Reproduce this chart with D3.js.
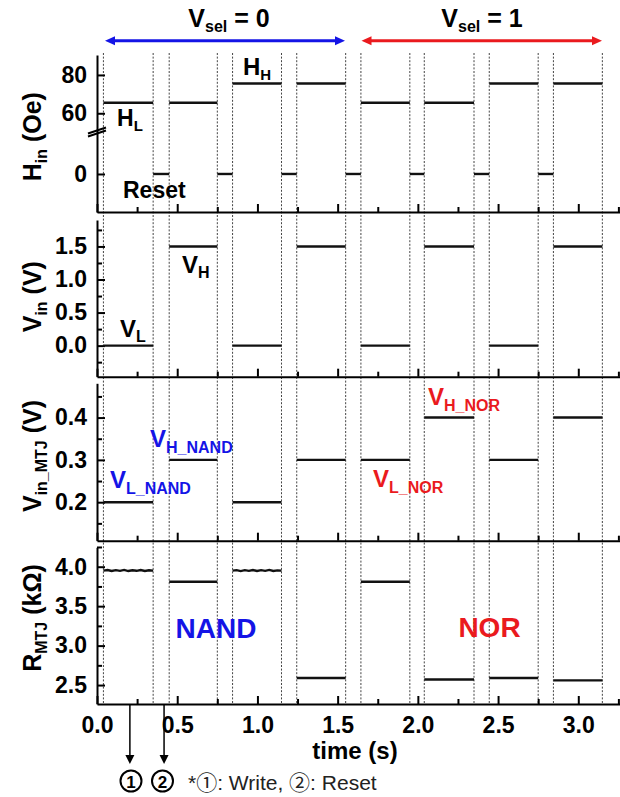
<!DOCTYPE html>
<html>
<head>
<meta charset="utf-8">
<script src="https://cdn.jsdelivr.net/npm/d3@7"></script>
<style>
  html, body { margin: 0; padding: 0; background: #fff; }
  svg { display: block; font-family: "Liberation Sans", Arial, "Noto Sans CJK JP", sans-serif; }
</style>
</head>
<body>
<svg id="chart" width="620" height="797"></svg>
<script>
// Time windows of each write pulse (s); resets sit between consecutive windows
const writeStart = [0.04, 0.45, 0.845, 1.245, 1.645, 2.04, 2.445, 2.845];
const writeEnd   = [0.35, 0.75, 1.15, 1.55, 1.95, 2.35, 2.75, 3.15];

// Input field during each write window (Oe) and during reset
const hIn = [65.5, 65.5, 75.5, 75.5, 65.5, 65.5, 75.5, 75.5];
const hReset = 0;

// Input voltage (V)
const vIn = [0, 1.5, 0, 1.5, 0, 1.5, 0, 1.5];

// Voltage across the MTJ (V)
const vInMTJ = [0.2, 0.3, 0.2, 0.3, 0.3, 0.4, 0.3, 0.4];

// Measured MTJ resistance (kΩ); windows 1 and 3 carry a small ripple
const rMTJ = [3.95, 3.81, 3.95, 2.59, 3.81, 2.57, 2.59, 2.56];
const rRipple1 = [3.950, 3.958, 3.946, 3.956, 3.947, 3.959, 3.945, 3.955, 3.948, 3.958, 3.946, 3.955, 3.950];
const rRipple3 = [3.950, 3.957, 3.945, 3.956, 3.948, 3.958, 3.946, 3.956, 3.947, 3.959, 3.946, 3.954, 3.950];

// Axis ticks
const xMajor = [0, 0.5, 1.0, 1.5, 2.0, 2.5, 3.0];
const xMinor = [0.25, 0.75, 1.25, 1.75, 2.25, 2.75, 3.25];
const hTicks = [0, 60, 80];
const vMajor = [0, 0.5, 1.0, 1.5];
const vMinor = [-0.25, 0.25, 0.75, 1.25, 1.75];
const mMajor = [0.2, 0.3, 0.4];
const mMinor = [0.15, 0.25, 0.35, 0.45];
const rMajor = [2.5, 3.0, 3.5, 4.0];
const rMinor = [2.75, 3.25, 3.75, 4.25];

// Operation markers along the time axis (s)
const writeMark = 0.205;
const resetMark = 0.418;

const BLUE = "#1414e6";
const RED = "#ea1a1e";
const svg = d3.select("#chart");

const x = d3.scaleLinear().domain([0, 3.26]).range([97, 620]);

const panels = [
  { top: 55,    bottom: 212 },
  { top: 220,   bottom: 376.7 },
  { top: 383.3, bottom: 540.7 },
  { top: 547.3, bottom: 704 }
];

// Field axis is broken between ~20 Oe and ~50 Oe
const yH = d3.scaleLinear().domain([-20, 20.5, 49.5, 90.4]).range([212.3, 134.7, 133.4, 55]);
const yV = d3.scaleLinear().domain([-0.47, 1.9]).range([376.7, 220]);
const yM = d3.scaleLinear().domain([0.109, 0.481]).range([540.7, 383.3]);
const yR = d3.scaleLinear().domain([2.26, 4.246]).range([704, 547.3]);

// Dotted guides at every window boundary
const bounds = writeStart.concat(writeEnd);
svg.append("g").selectAll("line").data(bounds).join("line")
  .attr("x1", d => x(d)).attr("x2", d => x(d))
  .attr("y1", 53).attr("y2", 704)
  .attr("stroke", "#444").attr("stroke-width", 1)
  .attr("stroke-dasharray", "2,1.6");

function styleAxis(g) {
  g.selectAll(".domain").attr("stroke", "#000").attr("stroke-width", 2);
  g.selectAll(".tick line").attr("stroke", "#000").attr("stroke-width", 2);
  g.selectAll(".tick text").attr("fill", "#000")
    .style("font-size", "23px").style("font-weight", "bold")
    .style("font-family", "'Liberation Sans', Arial, sans-serif");
}

// Axes for each panel
function drawAxes(i, y, major, minor, fmt) {
  const p = panels[i];
  const last = i === panels.length - 1;
  // bottom
  const gb = svg.append("g").attr("transform", `translate(0,${p.bottom})`);
  gb.call(d3.axisBottom(x).tickValues(xMajor).tickSize(-8).tickSizeOuter(0).tickPadding(12.7)
    .tickFormat(last ? d3.format(".1f") : () => ""));
  styleAxis(gb);
  const gbm = svg.append("g").attr("transform", `translate(0,${p.bottom})`);
  gbm.call(d3.axisBottom(x).tickValues(xMinor).tickSize(-5).tickSizeOuter(0).tickFormat(() => ""));
  styleAxis(gbm);
  gbm.select(".domain").remove();
  // left
  const gl = svg.append("g").attr("transform", `translate(${x(0)},0)`);
  gl.call(d3.axisLeft(y).tickValues(major).tickSize(-8).tickSizeOuter(0).tickPadding(10).tickFormat(fmt));
  styleAxis(gl);
  if (minor) {
    const glm = svg.append("g").attr("transform", `translate(${x(0)},0)`);
    glm.call(d3.axisLeft(y).tickValues(minor).tickSize(-5).tickSizeOuter(0).tickFormat(() => ""));
    styleAxis(glm);
    glm.select(".domain").remove();
  }
}

drawAxes(0, yH, hTicks, null, d3.format("d"));
drawAxes(1, yV, vMajor, vMinor, d3.format(".1f"));
drawAxes(2, yM, mMajor, mMinor, d3.format(".1f"));
drawAxes(3, yR, rMajor, rMinor, d3.format(".1f"));

// Break marks on the field axis
const brk = svg.append("g");
[0, 3].forEach(off => {
  brk.append("line")
    .attr("x1", x(0) - 9).attr("y1", 136.5 - off)
    .attr("x2", x(0) + 9).attr("y2", 130.5 - off)
    .attr("stroke", "#000").attr("stroke-width", 2);
});

// Step segments
const segStroke = "#111";
function drawLevels(y, values, resetValue) {
  const g = svg.append("g");
  const segs = values.map((v, i) => ({ t0: writeStart[i], t1: writeEnd[i], v }));
  if (resetValue !== undefined) {
    for (let i = 0; i < writeEnd.length - 1; i++) {
      segs.push({ t0: writeEnd[i], t1: writeStart[i + 1], v: resetValue });
    }
  }
  g.selectAll("line").data(segs).join("line")
    .attr("x1", d => x(d.t0)).attr("x2", d => x(d.t1))
    .attr("y1", d => y(d.v)).attr("y2", d => y(d.v))
    .attr("stroke", segStroke).attr("stroke-width", 2.4);
}
drawLevels(yH, hIn, hReset);
drawLevels(yV, vIn);
drawLevels(yM, vInMTJ);

// Resistance trace
const rg = svg.append("g");
const line = d3.line().x(d => x(d[0])).y(d => yR(d[1]));
rMTJ.forEach((v, i) => {
  let ripple = i === 0 ? rRipple1 : (i === 2 ? rRipple3 : null);
  let pts;
  if (ripple) {
    const n = ripple.length - 1;
    pts = ripple.map((r, k) => [writeStart[i] + (writeEnd[i] - writeStart[i]) * k / n, r]);
  } else {
    pts = [[writeStart[i], v], [writeEnd[i], v]];
  }
  rg.append("path").attr("d", line(pts)).attr("fill", "none")
    .attr("stroke", segStroke).attr("stroke-width", 2.4);
});

// Text helper: main text followed by a subscript
function subText(g, main, sub, size, subSize, rest, shift) {
  const t = g.append("text").style("font-weight", "bold").style("font-size", size + "px");
  t.append("tspan").text(main);
  t.append("tspan").attr("dy", shift).style("font-size", subSize + "px").text(sub);
  if (rest) t.append("tspan").attr("dy", -shift).style("font-size", size + "px").text(rest);
  return t;
}

// Y-axis titles
const titles = [
  { main: "H", sub: "in", rest: " (Oe)", cy: 136.7 },
  { main: "V", sub: "in", rest: " (V)", cy: 296.7 },
  { main: "V", sub: "in_MTJ", rest: " (V)", cy: 456 },
  { main: "R", sub: "MTJ", rest: " (kΩ)", cy: 618 }
];
titles.forEach(tt => {
  const g = svg.append("g").attr("transform", `translate(41,${tt.cy}) rotate(-90)`);
  subText(g, tt.main, tt.sub, 25, 16, tt.rest, 6).attr("text-anchor", "middle");
});

// X-axis title
svg.append("text").attr("x", 355).attr("y", 759).attr("text-anchor", "middle")
  .style("font-weight", "bold").style("font-size", "24px").text("time (s)");

// Vsel headers and arrows
[{ cx: 229, label: " = 0" }, { cx: 482, label: " = 1" }].forEach(h => {
  subText(svg.append("g"), "V", "sel", 25, 16, h.label, 5)
    .attr("x", h.cx).attr("y", 27).attr("text-anchor", "middle");
});
function dblArrow(x1, x2, y, color) {
  const g = svg.append("g");
  const hl = 10, hw = 4.5;
  g.append("line").attr("x1", x1 + hl - 1).attr("x2", x2 - hl + 1).attr("y1", y).attr("y2", y)
    .attr("stroke", color).attr("stroke-width", 3);
  g.append("path").attr("d", `M${x1},${y}L${x1 + hl},${y - hw}L${x1 + hl},${y + hw}Z`).attr("fill", color);
  g.append("path").attr("d", `M${x2},${y}L${x2 - hl},${y - hw}L${x2 - hl},${y + hw}Z`).attr("fill", color);
}
dblArrow(105, 345, 40.7, BLUE);
dblArrow(361.5, 602, 40.7, RED);

// In-panel annotations
const ann = svg.append("g");
subText(ann, "H", "L", 23, 15, null, 5).attr("x", 117).attr("y", 126);
subText(ann, "H", "H", 24, 15, null, 5).attr("x", 243).attr("y", 75);
ann.append("text").attr("x", 123).attr("y", 198).style("font-weight", "bold").style("font-size", "23px").text("Reset");
subText(ann, "V", "H", 24, 16, null, 5).attr("x", 182).attr("y", 273);
subText(ann, "V", "L", 24, 16, null, 5).attr("x", 120).attr("y", 337);
subText(ann, "V", "H_NAND", 24, 16, null, 6).attr("x", 150).attr("y", 447).attr("fill", BLUE);
subText(ann, "V", "L_NAND", 24, 16, null, 6).attr("x", 110).attr("y", 488).attr("fill", BLUE);
subText(ann, "V", "H_NOR", 24, 16, null, 6).attr("x", 428).attr("y", 405).attr("fill", RED);
subText(ann, "V", "L_NOR", 24, 16, null, 6).attr("x", 373).attr("y", 487).attr("fill", RED);
ann.append("text").attr("x", 216).attr("y", 638).attr("text-anchor", "middle")
  .style("font-weight", "bold").style("font-size", "28px").attr("fill", BLUE).text("NAND");
ann.append("text").attr("x", 489.5).attr("y", 637).attr("text-anchor", "middle")
  .style("font-weight", "bold").style("font-size", "28px").attr("fill", RED).text("NOR");

// Write / reset markers below the time axis
const marks = [{ t: writeMark, n: "1", cx: 131 }, { t: resetMark, n: "2", cx: 162.5 }];
const mg = svg.append("g");
marks.forEach(m => {
  const xm = x(m.t);
  mg.append("line").attr("x1", xm).attr("x2", xm).attr("y1", 704).attr("y2", 757)
    .attr("stroke", "#000").attr("stroke-width", 1.5);
  mg.append("path").attr("d", `M${xm},764L${xm - 4.5},755L${xm + 4.5},755Z`).attr("fill", "#000");
  mg.append("circle").attr("cx", m.cx).attr("cy", 781).attr("r", 10.5)
    .attr("fill", "none").attr("stroke", "#000").attr("stroke-width", 2);
  mg.append("text").attr("x", m.cx).attr("y", 787.5).attr("text-anchor", "middle")
    .style("font-weight", "bold").style("font-size", "17px").text(m.n);
});
svg.append("text").attr("x", 188).attr("y", 790).attr("fill", "#222")
  .style("font-size", "21px")
  .text("*①: Write, ②: Reset");
</script>
</body>
</html>
